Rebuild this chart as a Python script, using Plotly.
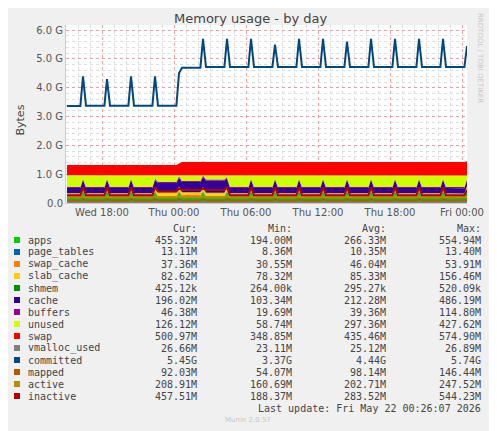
import plotly.graph_objects as go

times = [
 "2026-05-20 15:05",
 "2026-05-20 16:12","2026-05-20 16:25","2026-05-20 16:40",
 "2026-05-20 18:12","2026-05-20 18:25","2026-05-20 18:40",
 "2026-05-20 20:12","2026-05-20 20:25","2026-05-20 20:40",
 "2026-05-20 22:12","2026-05-20 22:25","2026-05-20 22:40",
 "2026-05-21 00:12","2026-05-21 00:25","2026-05-21 00:40",
 "2026-05-21 02:12","2026-05-21 02:25","2026-05-21 02:40",
 "2026-05-21 04:12","2026-05-21 04:25","2026-05-21 04:40",
 "2026-05-21 06:12","2026-05-21 06:25","2026-05-21 06:40",
 "2026-05-21 08:12","2026-05-21 08:25","2026-05-21 08:40",
 "2026-05-21 10:12","2026-05-21 10:25","2026-05-21 10:40",
 "2026-05-21 12:12","2026-05-21 12:25","2026-05-21 12:40",
 "2026-05-21 14:12","2026-05-21 14:25","2026-05-21 14:40",
 "2026-05-21 16:12","2026-05-21 16:25","2026-05-21 16:40",
 "2026-05-21 18:12","2026-05-21 18:25","2026-05-21 18:40",
 "2026-05-21 20:12","2026-05-21 20:25","2026-05-21 20:40",
 "2026-05-21 22:12","2026-05-21 22:25","2026-05-21 22:40",
 "2026-05-22 00:12","2026-05-22 00:25",
]

# values in G (1024^3 bytes)
apps = [0.20,
 0.20,0.40,0.20, 0.20,0.40,0.20, 0.20,0.40,0.20, 0.20,0.40,0.20,
 0.20,0.40,0.22, 0.22,0.40,0.20, 0.20,0.40,0.20, 0.20,0.40,0.20,
 0.20,0.40,0.20, 0.20,0.40,0.20, 0.20,0.40,0.20, 0.20,0.40,0.20,
 0.20,0.40,0.20, 0.20,0.40,0.20, 0.20,0.40,0.20, 0.20,0.40,0.20,
 0.20,0.455]
page_tables = [0.010,
 0.010,0.010,0.010, 0.010,0.010,0.010, 0.010,0.010,0.010, 0.010,0.010,0.010,
 0.010,0.010,0.010, 0.010,0.010,0.010, 0.010,0.010,0.010, 0.010,0.010,0.010,
 0.010,0.010,0.010, 0.010,0.010,0.010, 0.010,0.010,0.010, 0.010,0.010,0.010,
 0.010,0.010,0.010, 0.010,0.010,0.010, 0.010,0.010,0.010, 0.010,0.010,0.010,
 0.013,0.013]
swap_cache = [0.045,
 0.045,0.045,0.045, 0.045,0.045,0.045, 0.045,0.045,0.045, 0.045,0.045,0.045,
 0.045,0.045,0.045, 0.045,0.045,0.045, 0.045,0.045,0.045, 0.045,0.045,0.045,
 0.045,0.045,0.045, 0.045,0.045,0.045, 0.045,0.045,0.045, 0.045,0.045,0.045,
 0.045,0.045,0.045, 0.045,0.045,0.045, 0.045,0.045,0.045, 0.045,0.045,0.045,
 0.037,0.037]
slab_cache = [0.082,
 0.082,0.090,0.082, 0.082,0.090,0.082, 0.082,0.090,0.082, 0.082,0.090,0.120,
 0.120,0.120,0.100, 0.100,0.100,0.100, 0.100,0.090,0.082, 0.082,0.090,0.082,
 0.082,0.090,0.082, 0.082,0.090,0.082, 0.082,0.090,0.082, 0.082,0.090,0.082,
 0.082,0.090,0.082, 0.082,0.090,0.082, 0.082,0.090,0.082, 0.082,0.090,0.082,
 0.083,0.083]
shmem = [0.0003,
 0.0003,0.0003,0.0003, 0.0003,0.0003,0.0003, 0.0003,0.0003,0.0003, 0.0003,0.0003,0.0003,
 0.0003,0.0003,0.0003, 0.0003,0.0003,0.0003, 0.0003,0.0003,0.0003, 0.0003,0.0003,0.0003,
 0.0003,0.0003,0.0003, 0.0003,0.0003,0.0003, 0.0003,0.0003,0.0003, 0.0003,0.0003,0.0003,
 0.0003,0.0003,0.0003, 0.0003,0.0003,0.0003, 0.0003,0.0003,0.0003, 0.0003,0.0003,0.0003,
 0.0004,0.0004]
cache = [0.18,
 0.18,0.25,0.18, 0.18,0.25,0.18, 0.18,0.25,0.18, 0.18,0.25,0.32,
 0.32,0.30,0.35, 0.35,0.35,0.42, 0.42,0.30,0.18, 0.18,0.25,0.18,
 0.18,0.25,0.18, 0.18,0.25,0.18, 0.18,0.25,0.18, 0.18,0.25,0.18,
 0.18,0.25,0.18, 0.18,0.25,0.18, 0.18,0.25,0.18, 0.18,0.25,0.18,
 0.18,0.196]
buffers = [0.04,
 0.04,0.05,0.04, 0.04,0.05,0.04, 0.04,0.05,0.04, 0.04,0.05,0.04,
 0.04,0.05,0.04, 0.04,0.05,0.04, 0.04,0.05,0.04, 0.04,0.05,0.04,
 0.04,0.05,0.04, 0.04,0.05,0.04, 0.04,0.05,0.04, 0.04,0.05,0.04,
 0.04,0.05,0.04, 0.04,0.05,0.04, 0.04,0.05,0.04, 0.04,0.05,0.04,
 0.046,0.046]
unused = [0.41,
 0.41,0.125,0.41, 0.41,0.125,0.41, 0.41,0.125,0.41, 0.41,0.125,0.235,
 0.235,0.05,0.205, 0.205,0.02,0.155, 0.155,0.075,0.41, 0.41,0.125,0.41,
 0.41,0.125,0.41, 0.41,0.125,0.41, 0.41,0.125,0.41, 0.41,0.125,0.41,
 0.41,0.125,0.41, 0.41,0.125,0.41, 0.41,0.125,0.41, 0.41,0.125,0.41,
 0.41,0.126]
swap = [0.35,
 0.35,0.36,0.35, 0.35,0.36,0.35, 0.35,0.36,0.35, 0.35,0.36,0.35,
 0.35,0.40,0.45, 0.45,0.46,0.45, 0.45,0.46,0.45, 0.45,0.47,0.45,
 0.45,0.46,0.45, 0.45,0.46,0.45, 0.45,0.46,0.45, 0.45,0.46,0.45,
 0.45,0.46,0.45, 0.45,0.46,0.45, 0.45,0.46,0.45, 0.45,0.46,0.45,
 0.45,0.49]
vmalloc_used = [0.025,
 0.025,0.025,0.025, 0.025,0.025,0.025, 0.025,0.025,0.025, 0.025,0.025,0.025,
 0.025,0.025,0.025, 0.025,0.025,0.025, 0.025,0.025,0.025, 0.025,0.025,0.025,
 0.025,0.025,0.025, 0.025,0.025,0.025, 0.025,0.025,0.025, 0.025,0.025,0.025,
 0.025,0.025,0.025, 0.025,0.025,0.025, 0.025,0.025,0.025, 0.025,0.025,0.025,
 0.026,0.026]
committed = [3.37,
 3.37,4.40,3.38, 3.38,4.30,3.38, 3.38,4.40,3.38, 3.38,4.40,3.38,
 3.38,4.50,4.70, 4.70,5.70,4.72, 4.72,5.70,4.72, 4.72,5.70,4.72,
 4.72,5.50,4.72, 4.72,5.70,4.72, 4.72,5.70,4.72, 4.72,5.60,4.72,
 4.72,5.70,4.72, 4.72,5.70,4.72, 4.72,5.70,4.72, 4.72,5.70,4.72,
 4.72,5.45]
mapped = [0.09,
 0.09,0.13,0.09, 0.09,0.13,0.09, 0.09,0.13,0.09, 0.09,0.13,0.09,
 0.09,0.13,0.09, 0.09,0.13,0.09, 0.09,0.13,0.09, 0.09,0.13,0.09,
 0.09,0.13,0.09, 0.09,0.13,0.09, 0.09,0.13,0.09, 0.09,0.13,0.09,
 0.09,0.13,0.09, 0.09,0.13,0.09, 0.09,0.13,0.09, 0.09,0.13,0.09,
 0.09,0.092]
active = [0.20,
 0.20,0.24,0.20, 0.20,0.24,0.20, 0.20,0.24,0.20, 0.20,0.24,0.20,
 0.20,0.24,0.20, 0.20,0.24,0.20, 0.20,0.24,0.20, 0.20,0.24,0.20,
 0.20,0.24,0.20, 0.20,0.24,0.20, 0.20,0.24,0.20, 0.20,0.24,0.20,
 0.20,0.24,0.20, 0.20,0.24,0.20, 0.20,0.24,0.20, 0.20,0.24,0.20,
 0.20,0.209]
inactive = [0.27,
 0.27,0.54,0.27, 0.27,0.54,0.27, 0.27,0.54,0.27, 0.27,0.54,0.40,
 0.40,0.50,0.45, 0.45,0.50,0.45, 0.45,0.54,0.27, 0.27,0.54,0.27,
 0.27,0.54,0.27, 0.27,0.54,0.27, 0.27,0.54,0.27, 0.27,0.54,0.27,
 0.27,0.54,0.27, 0.27,0.54,0.27, 0.27,0.54,0.27, 0.27,0.54,0.27,
 0.27,0.457]

names = ["apps","page_tables","swap_cache","slab_cache","shmem","cache","buffers",
         "unused","swap","vmalloc_used","committed","mapped","active","inactive"]
colors = ["#00CC00","#0066B3","#FF8000","#FFCC00","#008F00","#330099","#990099",
          "#CCFF00","#FF0000","#808080","#00487D","#B35A00","#B38F00","#B30000"]
cur = ["455.32M","13.11M","37.36M","82.62M","425.12k","196.02M","46.38M","126.12M",
       "500.97M","26.66M","5.45G","92.03M","208.91M","457.51M"]
mins = ["194.00M","8.36M","30.55M","78.32M","264.00k","103.34M","19.69M","58.74M",
        "348.85M","23.11M","3.37G","54.07M","160.69M","188.37M"]
avgs = ["266.33M","10.35M","46.04M","85.33M","295.27k","212.28M","39.36M","297.36M",
        "435.46M","25.12M","4.44G","98.14M","202.71M","283.52M"]
maxs = ["554.94M","13.40M","53.91M","156.46M","520.09k","486.19M","114.80M","427.62M",
        "574.90M","26.89M","5.74G","146.44M","247.52M","544.23M"]
stacked = [apps, page_tables, swap_cache, slab_cache, shmem, cache, buffers, unused, swap]
lines = [vmalloc_used, committed, mapped, active, inactive]

fig = go.Figure()
for i, s in enumerate(stacked):
    fig.add_trace(go.Scatter(x=times, y=s, mode="lines", stackgroup="mem",
                             line=dict(width=0, color=colors[i]), fillcolor=colors[i],
                             name=names[i]))
for j, s in enumerate(lines):
    fig.add_trace(go.Scatter(x=times, y=s, mode="lines",
                             line=dict(width=2, color=colors[9 + j]), name=names[9 + j]))

# page body has an 8px default margin; work in reference pixel coords
OFF = 8
FW, FH = 497 - OFF, 431 - OFF
L, R, T, B = 66, 467, 25, 203
W, H = R - L, B - T
def px(x): return (x - L) / W
def py(y): return (B - y) / H

mono = "DejaVu Sans Mono"
ann = []
shapes = []
ann.append(dict(text="Memory usage - by day", x=px(250), y=py(19), showarrow=False,
                font=dict(family="DejaVu Sans", size=13, color="#444")))
ann.append(dict(text="Bytes", x=px(11), y=py(120), textangle=-90, showarrow=False,
                font=dict(family="DejaVu Sans", size=11, color="#444")))
ann.append(dict(text="RRDTOOL / TOBI OETIKER", x=px(486), y=py(58), textangle=90,
                showarrow=False, font=dict(family="DejaVu Sans", size=7, color="#C8C8C8")))
cols = [("Cur:", 199, cur), ("Min:", 294, mins), ("Avg:", 388, avgs), ("Max:", 483, maxs)]
for hdr, xr, vals in cols:
    ann.append(dict(text=hdr, x=px(xr), y=py(228), xanchor="right", showarrow=False,
                    font=dict(family=mono, size=10, color="#444")))
for k, n in enumerate(names):
    yy = 240 + 12 * k
    ann.append(dict(text=n, x=px(26), y=py(yy), xanchor="left", showarrow=False,
                    font=dict(family=mono, size=10, color="#444")))
    shapes.append(dict(type="rect", xref="paper", yref="paper", x0=px(14), x1=px(20),
                       y0=py(yy - 3), y1=py(yy + 3), fillcolor=colors[k], line=dict(width=0)))
    for hdr, xr, vals in cols:
        ann.append(dict(text=vals[k], x=px(xr), y=py(yy), xanchor="right", showarrow=False,
                        font=dict(family=mono, size=10, color="#444")))
ann.append(dict(text="Last update: Fri May 22 00:26:07 2026", x=px(483), y=py(408),
                xanchor="right", showarrow=False, font=dict(family=mono, size=10, color="#444")))
ann.append(dict(text="Munin 2.0.57", x=px(248), y=py(420), showarrow=False,
                font=dict(family="DejaVu Sans", size=7, color="#C8C8C8")))
for a in ann:
    a.setdefault("xref", "paper"); a.setdefault("yref", "paper")
    a.setdefault("yanchor", "middle")

fig.update_layout(
    width=FW, height=FH, autosize=False,
    margin=dict(l=L - OFF, r=497 - R, t=T - OFF, b=431 - B, autoexpand=False),
    paper_bgcolor="#F0F0F0", plot_bgcolor="#FFFFFF",
    showlegend=False, annotations=ann, shapes=shapes,
    font=dict(family="DejaVu Sans", size=10, color="#555"),
    xaxis=dict(type="date", range=["2026-05-20 15:00", "2026-05-22 00:25"], automargin=False,
               tickvals=["2026-05-20 18:00", "2026-05-21 00:00", "2026-05-21 06:00",
                         "2026-05-21 12:00", "2026-05-21 18:00", "2026-05-22 00:00"],
               ticktext=["Wed 18:00", "Thu 00:00", "Thu 06:00", "Thu 12:00", "Thu 18:00", "Fri 00:00"],
               showgrid=True, gridcolor="rgba(230,120,120,0.6)", griddash="dot", gridwidth=1,
               minor=dict(dtick=3600000, showgrid=True, gridcolor="#DDDDDD", griddash="dot"),
               ticks="", showline=True, linecolor="#CCCCCC", zeroline=False),
    yaxis=dict(range=[0, 6.18], tickvals=[0, 1, 2, 3, 4, 5, 6], automargin=False,
               ticktext=["0.0", "1.0 G", "2.0 G", "3.0 G", "4.0 G", "5.0 G", "6.0 G"],
               showgrid=True, gridcolor="rgba(230,120,120,0.6)", griddash="dot",
               minor=dict(dtick=0.2, showgrid=True, gridcolor="#DDDDDD", griddash="dot"),
               ticks="", showline=True, linecolor="#CCCCCC", zeroline=False),
)
fig.write_html("out.html")
